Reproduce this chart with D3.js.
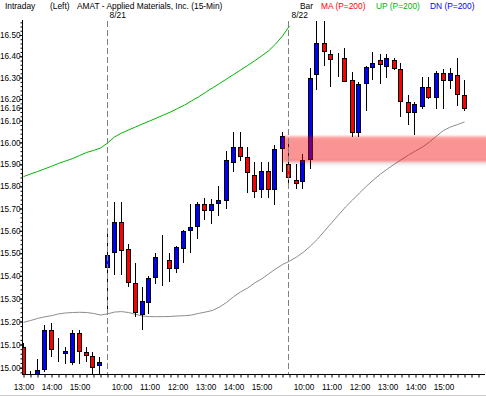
<!DOCTYPE html>
<html>
<head>
<meta charset="utf-8">
<script src="https://cdn.jsdelivr.net/npm/d3@7"></script>
<style>
  html, body { margin: 0; padding: 0; background: #fff; }
  svg { display: block; font-family: "Liberation Sans", Arial, sans-serif; }
</style>
</head>
<body>
<div id="chart"></div>
<script>
// AMAT 15-min bars: 8/20 afternoon, then full sessions 8/21 and 8/22
var firstDayTimes = ["13:00", "13:15", "13:30", "13:45", "14:00", "14:15", "14:30", "14:45",
  "15:00", "15:15", "15:30", "15:45"];
var sessionTimes = ["9:30", "9:45", "10:00", "10:15", "10:30", "10:45", "11:00", "11:15", "11:30",
  "11:45", "12:00", "12:15", "12:30", "12:45", "13:00", "13:15", "13:30", "13:45", "14:00",
  "14:15", "14:30", "14:45", "15:00", "15:15", "15:30", "15:45"];
var sessionDates = ["8/21", "8/22"];

var opens = [15.088, 14.96, 14.96, 14.993, 15.162, 15.078, 15.063, 15.026, 15.152, 15.068, 15.052, 15.011,
  15.438, 15.504, 15.639, 15.517, 15.367, 15.231, 15.285, 15.393, 15.485, 15.47, 15.433, 15.525,
  15.603, 15.622, 15.719, 15.693, 15.723, 15.738, 15.912, 15.978, 15.935, 15.851, 15.786, 15.87,
  15.786, 15.973,
  15.90, 15.829, 15.824, 15.923, 16.315, 16.461, 16.409, 16.39, 16.39, 16.287, 16.049, 16.273,
  16.35, 16.382, 16.356, 16.38, 16.338, 16.186, 16.14, 16.168, 16.257, 16.21, 16.32, 16.29,
  16.312, 16.217];
var highs = [15.107, 14.987, 15.037, 15.184, 15.192, 15.13, 15.09, 15.163, 15.163, 15.09, 15.066, 15.048,
  15.60, 15.73, 15.73, 15.541, 15.456, 15.351, 15.40, 15.50, 15.581, 15.50, 15.53, 15.604,
  15.719, 15.728, 15.746, 15.741, 15.801, 15.961, 16.049, 16.049, 15.978, 15.909, 15.912, 15.912,
  15.989, 16.049,
  16.003, 15.90, 15.946, 16.343, 16.60, 16.60, 16.429, 16.414, 16.437, 16.325, 16.28, 16.355,
  16.422, 16.41, 16.41, 16.39, 16.367, 16.217, 16.186, 16.301, 16.301, 16.332, 16.338, 16.347,
  16.39, 16.29];
var lows = [14.94, 14.93, 14.94, 14.98, 15.048, 15.026, 15.015, 15.012, 15.015, 15.024, 14.97, 14.975,
  15.254, 15.404, 15.404, 15.349, 15.221, 15.163, 15.231, 15.364, 15.357, 15.374, 15.414, 15.456,
  15.50, 15.562, 15.648, 15.629, 15.666, 15.696, 15.867, 15.917, 15.771, 15.746, 15.746, 15.746,
  15.716, 15.867,
  15.801, 15.786, 15.786, 15.88, 16.242, 16.355, 16.257, 16.303, 16.281, 16.026, 16.026, 16.146,
  16.287, 16.27, 16.30, 16.335, 16.118, 16.08, 16.034, 16.152, 16.198, 16.155, 16.155, 16.246,
  16.166, 16.146];
var closes = [14.96, 14.95, 14.99, 15.162, 15.081, 15.078, 15.07, 15.152, 15.07, 15.053, 15.002, 15.024,
  15.49, 15.639, 15.514, 15.371, 15.24, 15.289, 15.389, 15.485, 15.485, 15.433, 15.527, 15.60,
  15.616, 15.72, 15.693, 15.719, 15.738, 15.92, 15.978, 15.939, 15.864, 15.78, 15.87, 15.786,
  15.97, 16.03,
  15.841, 15.814, 15.918, 16.30, 16.461, 16.425, 16.387, 16.39, 16.284, 16.049, 16.268, 16.348,
  16.367, 16.363, 16.39, 16.343, 16.192, 16.14, 16.178, 16.257, 16.21, 16.32, 16.29, 16.32,
  16.222, 16.16];

// green upper band line (runs off the top of the chart after 8/22 open)
var upperLine = [15.844, 15.856, 15.867, 15.879, 15.891, 15.904, 15.915, 15.926, 15.940, 15.954, 15.963,
  15.974, 15.997, 16.025, 16.043, 16.057, 16.071, 16.085, 16.098, 16.112, 16.126, 16.140, 16.156,
  16.172, 16.191, 16.210, 16.231, 16.252, 16.272, 16.293, 16.314, 16.335, 16.356, 16.378, 16.401,
  16.425, 16.457, 16.495, 16.543];
// grey lower line
var lowerLine = [15.196, 15.204, 15.213, 15.220, 15.225, 15.233, 15.237, 15.239, 15.240, 15.239, 15.235,
  15.228, 15.233, 15.241, 15.243, 15.239, 15.231, 15.224, 15.221, 15.221, 15.221, 15.222, 15.224,
  15.225, 15.228, 15.235, 15.241, 15.248, 15.263, 15.283, 15.308, 15.329, 15.346, 15.368, 15.386,
  15.408, 15.430, 15.450, 15.465, 15.483, 15.505, 15.532, 15.563, 15.599, 15.635, 15.671, 15.707,
  15.738, 15.770, 15.801, 15.829, 15.856, 15.879, 15.901, 15.922, 15.942, 15.961, 15.979, 16.002,
  16.029, 16.055, 16.071, 16.082, 16.094];

// resistance zone, starting from bar 37
var zoneRange = [15.912, 16.028];
var zoneStartBar = 37;

var priceTicks = [15.00, 15.10, 15.20, 15.30, 15.40, 15.50, 15.60, 15.70, 15.80, 15.90,
  16.00, 16.10, 16.20, 16.30, 16.40, 16.50];

var headerItems = [
  { text: "Intraday", x: 5, color: "#000" },
  { text: "(Left)", x: 50, color: "#000" },
  { text: "AMAT - Applied Materials, Inc.  (15-Min)", x: 77, color: "#000" },
  { text: "Bar", x: 300, color: "#000" },
  { text: "MA (P=200)", x: 321, color: "#ff0000" },
  { text: "UP (P=200)", x: 376, color: "#00b400" },
  { text: "DN (P=200)", x: 430, color: "#0000ff" }
];

var width = 486, height = 396;
var plotLeft = 22, plotRight = 486, plotTop = 21, plotBottom = 374;

var svg, plot, x, y;
var barTimes = firstDayTimes.concat(sessionTimes, sessionTimes);
var sessionStarts = [firstDayTimes.length, firstDayTimes.length + sessionTimes.length];

function snap(v) {
  return Math.round(v) + 0.5;
}

function initSvg() {
  svg = d3.select("#chart").append("svg")
    .attr("width", width)
    .attr("height", height);

  var defs = svg.append("defs");
  defs.append("clipPath").attr("id", "plotClip")
    .append("rect")
    .attr("x", plotLeft).attr("y", plotTop)
    .attr("width", plotRight - plotLeft).attr("height", plotBottom - plotTop);

  // soft edges, grey shadow only along the bottom edge
  var f = defs.append("filter").attr("id", "zoneSoft")
    .attr("x", "-5%").attr("y", "-60%").attr("width", "110%").attr("height", "220%");
  f.append("feGaussianBlur").attr("in", "SourceAlpha").attr("stdDeviation", 1.8).attr("result", "blur");
  f.append("feOffset").attr("in", "blur").attr("dy", 3).attr("result", "off");
  f.append("feFlood").attr("flood-color", "#000").attr("flood-opacity", 0.3);
  f.append("feComposite").attr("in2", "off").attr("operator", "in").attr("result", "shadow");
  f.append("feOffset").attr("in", "SourceAlpha").attr("dy", -3).attr("result", "up");
  f.append("feComposite").attr("in", "shadow").attr("in2", "up").attr("operator", "out").attr("result", "edge");
  f.append("feGaussianBlur").attr("in", "SourceGraphic").attr("stdDeviation", 1).attr("result", "soft");
  var m = f.append("feMerge");
  m.append("feMergeNode").attr("in", "edge");
  m.append("feMergeNode").attr("in", "soft");

  x = d3.scaleLinear().domain([0, 63]).range([23.5, 464.5]);
  y = d3.scaleLog().domain([15.0, 16.5]).range([367.7, 35]);

  plot = svg.append("g").attr("clip-path", "url(#plotClip)");
}

function headerUpdate() {
  svg.append("g").selectAll("text")
    .data(headerItems)
    .enter().append("text")
    .attr("x", function (d) { return d.x; })
    .attr("y", 8.5)
    .attr("fill", function (d) { return d.color; })
    .style("font-size", "8.4px")
    .text(function (d) { return d.text; });
}

function axesUpdate() {
  // left price axis
  var minor = d3.range(14.98, 16.57, 0.02);
  svg.append("g")
    .attr("transform", "translate(" + (plotLeft + 0.5) + ",0)")
    .call(d3.axisLeft(y).tickValues(minor).tickSize(2).tickFormat(""))
    .call(function (g) { g.select(".domain").remove(); })
    .selectAll("line").attr("stroke", "#000");

  var lastClose = closes[closes.length - 1];
  var yAxis = svg.append("g")
    .attr("transform", "translate(" + (plotLeft + 0.5) + ",0)")
    .call(d3.axisLeft(y).tickValues(priceTicks.concat([lastClose])).tickSize(3).tickPadding(-1)
      .tickFormat(d3.format(".2f")));
  yAxis.select(".domain").remove();
  yAxis.selectAll("text").style("font-size", "8.2px").attr("fill", "#000").style("font-family", "inherit");
  yAxis.selectAll("line").attr("stroke", "#000");

  svg.append("line")
    .attr("x1", plotLeft + 0.5).attr("x2", plotLeft + 0.5)
    .attr("y1", plotTop - 1).attr("y2", plotBottom + 0.5)
    .attr("stroke", "#000");

  // bottom time axis, one tick per bar, labels on the hour
  var slots = d3.range(0, 66);
  var hourSlots = barTimes.map(function (t, i) { return t.slice(-3) === ":00" ? i : -1; })
    .filter(function (i) { return i >= 0; });

  var xAxis = svg.append("g")
    .attr("transform", "translate(0," + (plotBottom + 0.5) + ")")
    .call(d3.axisBottom(x).tickValues(slots).tickSize(3).tickFormat(""));
  xAxis.select(".domain").remove();
  xAxis.selectAll("line").attr("stroke", "#000");

  var xLabels = svg.append("g")
    .attr("transform", "translate(0," + (plotBottom + 0.5) + ")")
    .call(d3.axisBottom(x).tickValues(hourSlots).tickSize(0).tickPadding(10)
      .tickFormat(function (i) { return barTimes[i]; }));
  xLabels.select(".domain").remove();
  xLabels.selectAll("text").style("font-size", "8.2px").attr("fill", "#000").style("font-family", "inherit");

  svg.append("line")
    .attr("x1", plotLeft).attr("x2", 485)
    .attr("y1", plotBottom + 0.5).attr("y2", plotBottom + 0.5)
    .attr("stroke", "#000");

  // window edge at the bottom
  svg.append("line")
    .attr("x1", 0).attr("x2", width)
    .attr("y1", 395.5).attr("y2", 395.5)
    .attr("stroke", "#c8c8c8");
}

function sessionsUpdate() {
  svg.append("g").selectAll("line")
    .data(sessionStarts)
    .enter().append("line")
    .attr("x1", function (d) { return snap(x(d)) - 1; })
    .attr("x2", function (d) { return snap(x(d)) - 1; })
    .attr("y1", plotTop)
    .attr("y2", plotBottom)
    .attr("stroke", "#808080")
    .attr("stroke-dasharray", "6,3");

  svg.append("g").selectAll("text")
    .data(sessionStarts)
    .enter().append("text")
    .attr("x", function (d) { return x(d) + 2; })
    .attr("y", 18)
    .style("font-size", "8.4px")
    .text(function (d, i) { return sessionDates[i]; });
}

function linesUpdate() {
  var line = d3.line()
    .x(function (d, i) { return x(i); })
    .y(function (d) { return y(d); });

  plot.append("path")
    .datum(upperLine)
    .attr("d", line)
    .attr("fill", "none")
    .attr("stroke", "#00b400")
    .attr("stroke-width", 1);

  plot.append("path")
    .datum(lowerLine)
    .attr("d", line)
    .attr("fill", "none")
    .attr("stroke", "#8c8c8c")
    .attr("stroke-width", 1);
}

function candlesUpdate() {
  var bars = plot.append("g")
    .selectAll("g")
    .data(d3.range(opens.length))
    .enter().append("g");

  bars.append("line")
    .attr("x1", function (i) { return snap(x(i)) - 1; })
    .attr("x2", function (i) { return snap(x(i)) - 1; })
    .attr("y1", function (i) { return Math.round(y(highs[i])); })
    .attr("y2", function (i) { return Math.round(y(lows[i])); })
    .attr("stroke", "#000");

  bars.append("rect")
    .attr("x", function (i) { return snap(x(i)) - 3; })
    .attr("y", function (i) { return snap(y(Math.max(opens[i], closes[i]))); })
    .attr("width", 4)
    .attr("height", function (i) {
      return Math.max(0, Math.round(y(Math.min(opens[i], closes[i]))) - Math.round(y(Math.max(opens[i], closes[i]))));
    })
    .attr("fill", function (i) { return closes[i] >= opens[i] ? "#0000ff" : "#ff0000"; })
    .attr("stroke", "#000")
    .attr("stroke-width", 1);
}

function zoneUpdate() {
  plot.append("rect")
    .attr("x", x(zoneStartBar))
    .attr("y", y(zoneRange[1]))
    .attr("width", plotRight - x(zoneStartBar) + 10)
    .attr("height", y(zoneRange[0]) - y(zoneRange[1]))
    .attr("fill", "#ff0000")
    .attr("fill-opacity", 0.38)
    .attr("filter", "url(#zoneSoft)");
}

(function () {
  initSvg();
  headerUpdate();
  sessionsUpdate();
  linesUpdate();
  candlesUpdate();
  zoneUpdate();
  axesUpdate();
}());
</script>
</body>
</html>
